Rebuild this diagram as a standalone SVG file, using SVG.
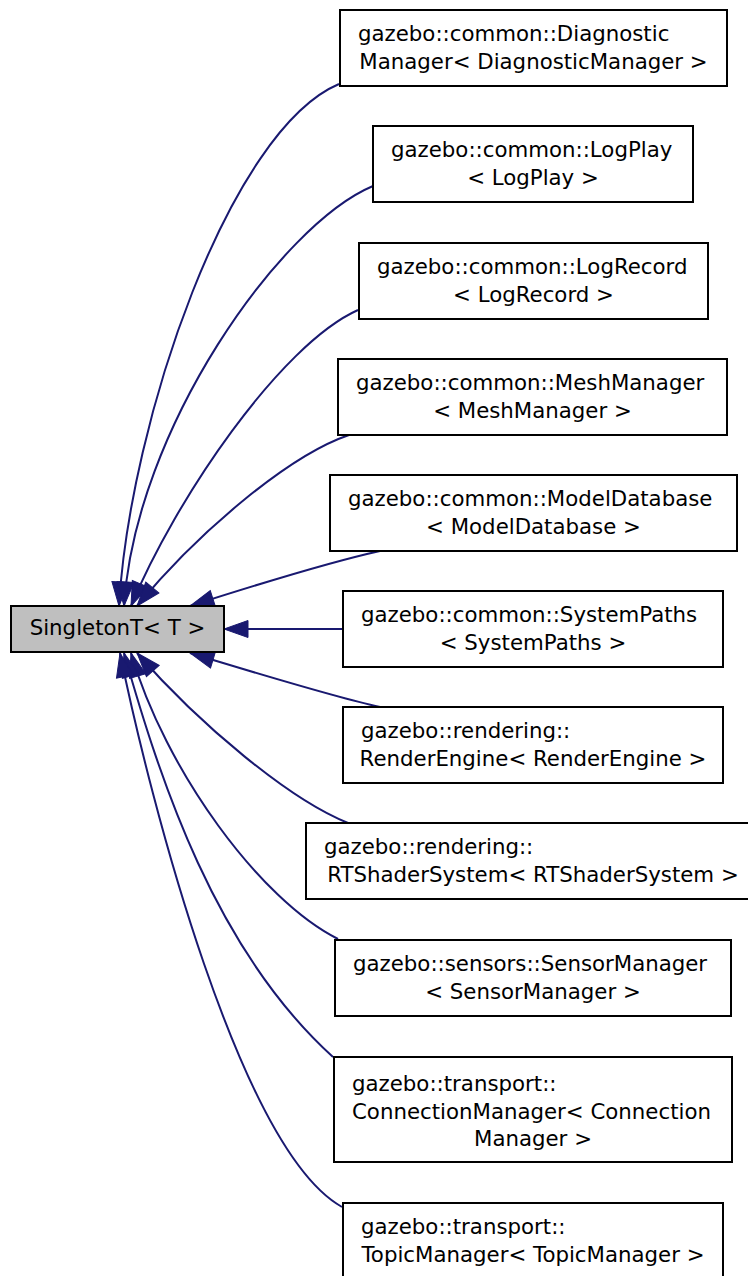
<svg xmlns="http://www.w3.org/2000/svg" width="748" height="1276" viewBox="0 0 748 1276">
<style>
.box{fill:#ffffff;stroke:#000000;stroke-width:2}
.root{fill:#bfbfbf;stroke:#000000;stroke-width:2}
.t{font-family:"DejaVu Sans","Liberation Sans",sans-serif;font-size:21.3px;fill:#000000}
.m{text-anchor:middle}
.e{fill:none;stroke:#191970;stroke-width:2;marker-end:url(#ah)}
</style>
<defs>
<marker id="ah" markerUnits="userSpaceOnUse" markerWidth="26" markerHeight="20" refX="24" refY="8.5" orient="auto" overflow="visible">
<path d="M0,0 L24,8.5 L0,17 z" fill="#191970" stroke="#191970" stroke-width="1"/>
</marker>
</defs>
<rect width="748" height="1276" fill="#ffffff"/>
<g id="edges">
<path class="e" d="M339,84 C230,130 130,420 119,606"/>
<path class="e" d="M373,186 C280,225 135,430 124,606"/>
<path class="e" d="M358,310 C280,345 175,500 131,606"/>
<path class="e" d="M349,435 C290,455 200,530 137,606"/>
<path class="e" d="M380,551 C330,562 240,590 190,606"/>
<path class="e" d="M343,629 L224,629"/>
<path class="e" d="M380,707 C330,696 240,668 190,653"/>
<path class="e" d="M348,823 C290,800 200,725 137,653"/>
<path class="e" d="M338,939 C260,900 165,770 131,653"/>
<path class="e" d="M333,1057 C215,950 160,780 124,653"/>
<path class="e" d="M342,1207 C240,1150 150,800 120,653"/>
</g>
<g id="singleton">
<rect class="root" x="11" y="606" width="213" height="46"/>
<text class="t m" x="117.5" y="635">SingletonT&lt; T &gt;</text>
</g>
<g id="diagnostic">
<rect class="box" x="340" y="10" width="387" height="76"/>
<text class="t" x="358" y="41">gazebo::common::Diagnostic</text>
<text class="t m" x="533.5" y="69">Manager&lt; DiagnosticManager &gt;</text>
</g>
<g id="logplay">
<rect class="box" x="373" y="126" width="320" height="76"/>
<text class="t" x="391" y="157">gazebo::common::LogPlay</text>
<text class="t m" x="533" y="185">&lt; LogPlay &gt;</text>
</g>
<g id="logrecord">
<rect class="box" x="359" y="243" width="349" height="76"/>
<text class="t" x="377" y="273.5">gazebo::common::LogRecord</text>
<text class="t m" x="533.5" y="301.5">&lt; LogRecord &gt;</text>
</g>
<g id="meshmanager">
<rect class="box" x="338" y="359" width="389" height="76"/>
<text class="t" x="356" y="389.5">gazebo::common::MeshManager</text>
<text class="t m" x="532.5" y="417.5">&lt; MeshManager &gt;</text>
</g>
<g id="modeldatabase">
<rect class="box" x="330" y="475" width="407" height="76"/>
<text class="t" x="348" y="505.5">gazebo::common::ModelDatabase</text>
<text class="t m" x="533.5" y="533.5">&lt; ModelDatabase &gt;</text>
</g>
<g id="systempaths">
<rect class="box" x="343" y="591" width="380" height="76"/>
<text class="t" x="361" y="621.5">gazebo::common::SystemPaths</text>
<text class="t m" x="533" y="649.5">&lt; SystemPaths &gt;</text>
</g>
<g id="renderengine">
<rect class="box" x="343" y="707" width="380" height="76"/>
<text class="t" x="361" y="737.5">gazebo::rendering::</text>
<text class="t m" x="533" y="765.5">RenderEngine&lt; RenderEngine &gt;</text>
</g>
<g id="rtshadersystem">
<rect class="box" x="306" y="823" width="454" height="76"/>
<text class="t" x="324" y="853.5">gazebo::rendering::</text>
<text class="t m" x="533" y="881.5">RTShaderSystem&lt; RTShaderSystem &gt;</text>
</g>
<g id="sensormanager">
<rect class="box" x="335" y="940" width="396" height="76"/>
<text class="t" x="353" y="970.5">gazebo::sensors::SensorManager</text>
<text class="t m" x="533" y="998.5">&lt; SensorManager &gt;</text>
</g>
<g id="connectionmanager">
<rect class="box" x="334" y="1057" width="398" height="105"/>
<text class="t" x="352" y="1091">gazebo::transport::</text>
<text class="t" x="352" y="1118.5">ConnectionManager&lt; Connection</text>
<text class="t m" x="533" y="1146">Manager &gt;</text>
</g>
<g id="topicmanager">
<rect class="box" x="343" y="1203" width="380" height="78"/>
<text class="t" x="361" y="1233.5">gazebo::transport::</text>
<text class="t m" x="533" y="1261.5">TopicManager&lt; TopicManager &gt;</text>
</g>
</svg>
